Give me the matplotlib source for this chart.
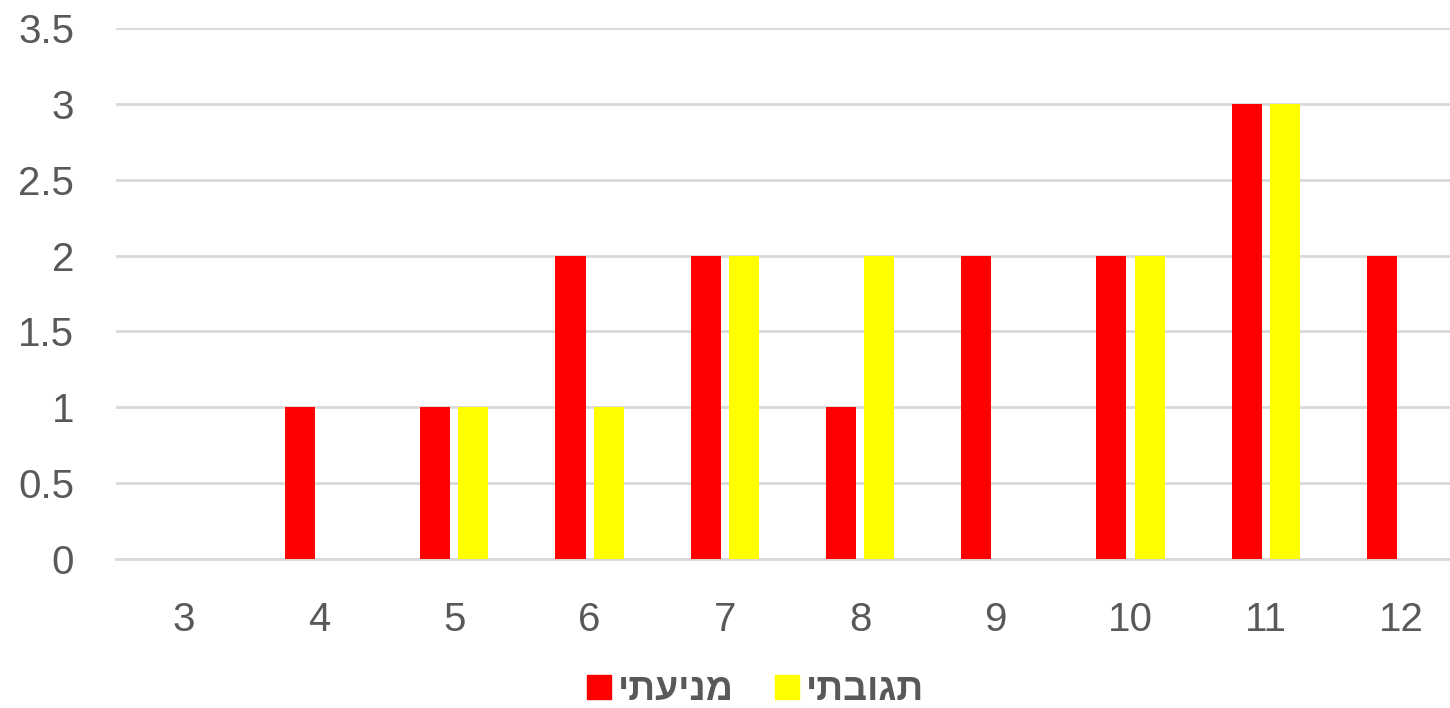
import matplotlib.pyplot as plt
from matplotlib.patches import Patch
import numpy as np

categories = [3, 4, 5, 6, 7, 8, 9, 10, 11, 12]
preventive = [0, 1, 1, 2, 2, 1, 2, 2, 3, 2]
reactive = [0, 0, 1, 1, 2, 2, 0, 2, 3, 0]
series_names = ["מניעתי", "תגובתי"]
y_ticks = [0, 0.5, 1, 1.5, 2, 2.5, 3, 3.5]

# matplotlib has no bidi support, so Hebrew labels are reversed for display
def rtl(s):
    return s[::-1]

plt.rcParams["font.family"] = ["Liberation Sans", "DejaVu Sans"]

fig = plt.figure(figsize=(14.5, 7.08), dpi=100)
ax = fig.add_axes([116 / 1450, 1 - 559 / 708, (1450 - 116) / 1450, (559 - 28) / 708])

x = np.arange(len(categories))
width = 0.222
off = 0.141
ax.bar(x - off, preventive, width, color="#ff0000", zorder=3)
ax.bar(x + off, reactive, width, color="#ffff00", zorder=3)

ax.set_xlim(-0.5015, 9.362)
ax.set_ylim(0, 3.5)
ax.set_yticks(y_ticks)
ax.set_yticklabels([f"{t:g}" for t in y_ticks])
ax.set_xticks(x)
ax.set_xticklabels([str(c) for c in categories])
ax.tick_params(axis="both", length=0, labelsize=29, labelcolor="#595959")
ax.tick_params(axis="y", pad=30)
ax.tick_params(axis="x", pad=30)
ax.grid(axis="y", color="#d9d9d9", linewidth=2, zorder=0)
ax.set_axisbelow(True)
for s in ax.spines.values():
    s.set_visible(False)
ax.spines["bottom"].set_visible(True)
ax.spines["bottom"].set_color("#d9d9d9")
ax.spines["bottom"].set_linewidth(2)

handles = [Patch(color="#ff0000"), Patch(color="#ffff00")]
fig.legend(handles, [rtl(n) for n in series_names], loc="center",
           bbox_to_anchor=(756 / 1450, 1 - 690 / 708), ncol=2, frameon=False,
           prop={"size": 27, "weight": "bold"}, labelcolor="#595959",
           handlelength=0.62, handleheight=0.62, handletextpad=0.2,
           columnspacing=1.1)

fig.savefig("out.png", dpi=100)
